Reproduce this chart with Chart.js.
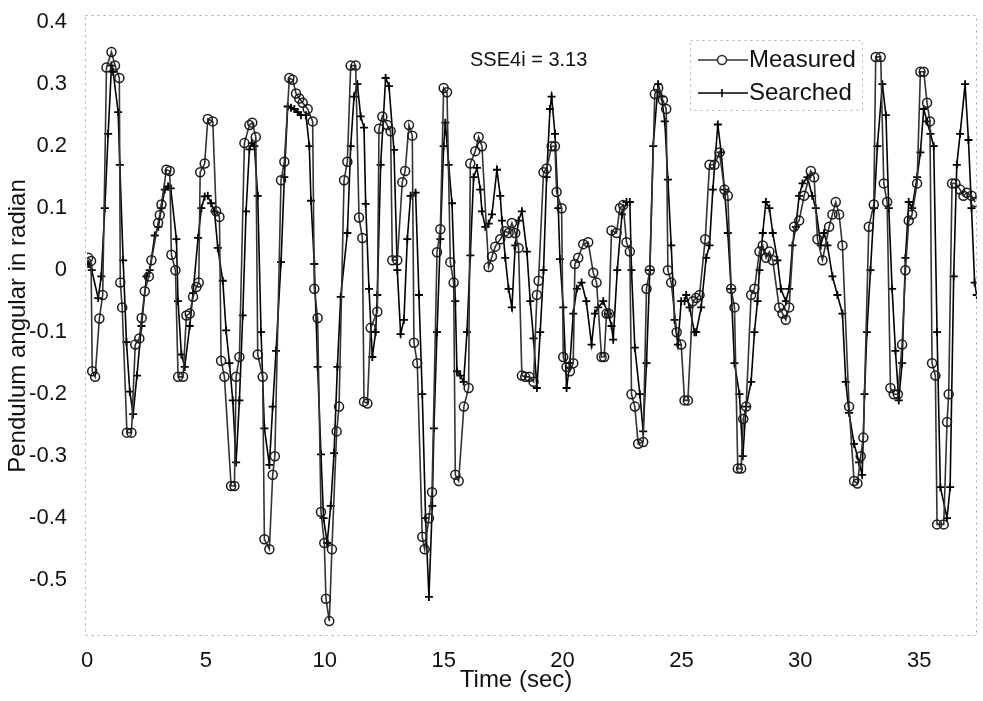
<!DOCTYPE html>
<html>
<head>
<meta charset="utf-8">
<title>Pendulum angle</title>
<script src="https://cdn.jsdelivr.net/npm/chart.js@4.4.1/dist/chart.umd.min.js"></script>
<style>
  html, body { margin: 0; padding: 0; background: #fff; }
  #chart { display: block; }
</style>
</head>
<body>
<canvas id="chart" width="983" height="701"></canvas>
<script>
// time axis (sec) and angle (rad)
var measuredTime = [
    0.05,0.17,0.22,0.34,0.52,0.66,0.82,1.03,1.18,1.36,
    1.40,1.48,1.68,1.87,2.03,2.20,2.30,2.43,2.60,2.71,
    2.99,3.06,3.13,3.34,3.48,3.55,3.72,3.83,4.04,4.18,
    4.32,4.46,4.60,4.70,4.76,4.95,5.08,5.29,5.43,5.57,
    5.64,5.78,6.06,6.20,6.27,6.41,6.62,6.83,6.95,7.10,
    7.18,7.39,7.46,7.67,7.81,7.90,8.16,8.30,8.51,8.65,
    8.79,8.93,9.07,9.28,9.49,9.56,9.70,9.84,9.98,10.05,
    10.19,10.30,10.50,10.60,10.81,10.95,11.09,11.30,11.44,11.58,
    11.65,11.79,11.93,12.21,12.28,12.42,12.63,12.77,12.84,13.05,
    13.26,13.38,13.54,13.68,13.75,13.89,14.10,14.20,14.38,14.51,
    14.72,14.86,15.00,15.14,15.28,15.42,15.49,15.63,15.85,16.05,
    16.12,16.33,16.47,16.61,16.89,17.03,17.17,17.38,17.59,17.73,
    17.87,18.01,18.15,18.29,18.43,18.60,18.78,18.92,18.99,19.20,
    19.33,19.54,19.68,19.75,19.96,20.03,20.17,20.31,20.45,20.52,
    20.66,20.87,21.08,21.29,21.43,21.64,21.75,21.85,21.95,22.06,
    22.27,22.41,22.55,22.69,22.83,22.90,23.04,23.18,23.39,23.53,
    23.67,23.88,24.02,24.22,24.36,24.43,24.57,24.80,24.99,25.13,
    25.27,25.48,25.62,25.76,26.00,26.18,26.39,26.60,26.81,26.95,
    27.09,27.23,27.37,27.51,27.60,27.72,27.93,28.07,28.28,28.42,
    28.56,28.70,28.84,29.11,29.25,29.39,29.53,29.74,29.95,30.16,
    30.44,30.58,30.72,30.93,31.21,31.35,31.49,31.63,31.77,32.05,
    32.26,32.40,32.54,32.65,32.88,33.09,33.17,33.38,33.51,33.65,
    33.79,33.93,34.10,34.28,34.42,34.56,34.70,34.91,35.05,35.19,
    35.33,35.45,35.54,35.68,35.75,36.03,36.17,36.24,36.38,36.52,
    36.72,36.86,37.00,37.20,37.35
];
var measuredAngle = [
    0.02,0.015,-0.163,-0.172,-0.078,-0.04,0.327,0.352,0.33,0.31,
    -0.02,-0.06,-0.262,-0.262,-0.12,-0.11,-0.077,-0.034,-0.01,0.016,
    0.076,0.089,0.106,0.162,0.16,0.025,0.0,-0.172,-0.172,-0.073,
    -0.07,-0.043,-0.027,-0.02,0.158,0.172,0.244,0.24,0.095,0.086,
    -0.146,-0.172,-0.348,-0.348,-0.172,-0.14,0.205,0.234,0.238,0.215,
    -0.136,-0.172,-0.434,-0.45,-0.33,-0.30,0.145,0.175,0.31,0.307,
    0.285,0.277,0.27,0.26,0.24,-0.03,-0.077,-0.39,-0.44,-0.53,
    -0.566,-0.45,-0.26,-0.22,0.145,0.175,0.33,0.33,0.085,0.052,
    -0.212,-0.215,-0.093,-0.067,0.228,0.248,0.234,0.224,0.016,0.016,
    0.142,0.16,0.234,0.217,-0.117,-0.15,-0.43,-0.45,-0.40,-0.358,
    0.029,0.066,0.294,0.287,0.013,-0.02,-0.33,-0.34,-0.22,-0.19,
    0.172,0.192,0.215,0.20,0.005,0.022,0.038,0.05,0.063,0.06,
    0.076,0.06,0.036,-0.17,-0.172,-0.172,-0.18,-0.04,-0.017,0.158,
    0.164,0.20,0.20,0.126,0.10,-0.14,-0.156,-0.163,-0.15,0.01,
    0.02,0.042,0.045,-0.004,-0.02,-0.14,-0.14,-0.07,-0.07,0.064,
    0.06,0.10,0.105,0.045,0.03,-0.20,-0.22,-0.28,-0.277,-0.03,
    0.0,0.284,0.294,0.274,0.26,0.0,-0.02,-0.10,-0.12,-0.21,
    -0.21,-0.05,-0.045,-0.04,0.05,0.17,0.17,0.19,0.13,0.12,
    -0.03,-0.06,-0.32,-0.32,-0.24,-0.22,-0.04,-0.03,0.03,0.04,
    0.02,0.03,0.016,-0.06,-0.07,-0.08,-0.06,0.07,0.08,0.12,
    0.16,0.15,0.05,0.016,0.07,0.09,0.11,0.09,0.04,-0.22,
    -0.34,-0.344,-0.30,-0.27,0.07,0.106,0.344,0.344,0.14,0.11,
    -0.19,-0.20,-0.20,-0.12,0.0,0.08,0.09,0.14,0.32,0.32,
    0.27,0.24,-0.15,-0.17,-0.41,-0.41,-0.245,-0.20,0.14,0.14,
    0.13,0.12,0.125,0.12,0.11
];

var searchedTime = [
    0.05,0.20,0.47,0.60,0.75,0.89,1.03,1.10,1.31,1.38,
    1.52,1.66,1.80,1.94,2.10,2.29,2.50,2.64,2.85,3.00,
    3.13,3.27,3.41,3.52,3.76,3.83,3.97,4.11,4.32,4.46,
    4.67,4.81,4.95,5.08,5.22,5.36,5.50,5.71,5.85,5.99,
    6.13,6.27,6.41,6.55,6.69,6.83,6.93,7.04,7.18,7.32,
    7.46,7.67,7.81,7.95,8.16,8.30,8.44,8.58,8.72,8.86,
    9.00,9.21,9.35,9.42,9.56,9.70,9.84,9.95,10.10,10.25,
    10.39,10.53,10.67,10.95,11.09,11.23,11.37,11.51,11.65,11.72,
    11.86,12.00,12.14,12.21,12.35,12.56,12.70,12.91,13.05,13.19,
    13.33,13.47,13.61,13.82,13.96,14.10,14.24,14.38,14.52,14.59,
    14.72,14.86,15.00,15.07,15.21,15.35,15.49,15.56,15.70,15.84,
    15.98,16.12,16.26,16.40,16.54,16.61,16.75,16.89,17.03,17.24,
    17.38,17.45,17.59,17.73,17.87,18.01,18.15,18.29,18.50,18.64,
    18.78,18.92,19.06,19.20,19.33,19.47,19.54,19.68,19.82,19.89,
    20.03,20.17,20.31,20.45,20.60,20.80,21.00,21.22,21.36,21.50,
    21.71,21.92,22.06,22.13,22.30,22.50,22.69,22.83,22.90,23.04,
    23.25,23.39,23.53,23.67,23.81,24.02,24.16,24.30,24.43,24.57,
    24.71,24.85,24.99,25.13,25.20,25.34,25.55,25.62,25.83,26.04,
    26.18,26.32,26.53,26.67,26.81,26.95,27.09,27.23,27.44,27.58,
    27.72,27.93,28.07,28.20,28.28,28.42,28.55,28.70,28.84,29.04,
    29.18,29.39,29.53,29.67,29.81,29.95,30.09,30.30,30.50,30.65,
    30.86,31.00,31.14,31.35,31.56,31.77,31.91,32.05,32.26,32.47,
    32.60,32.70,32.80,32.95,33.10,33.24,33.45,33.60,33.72,33.86,
    34.00,34.14,34.28,34.42,34.56,34.70,34.91,35.05,35.19,35.33,
    35.47,35.61,35.75,35.89,36.17,36.30,36.45,36.58,36.72,36.93,
    37.07,37.20,37.33,37.42
];
var searchedAngle = [
    0.01,0.0,-0.045,-0.01,0.10,0.22,0.33,0.32,0.255,0.17,
    0.016,-0.116,-0.196,-0.232,-0.17,-0.09,-0.01,0.0,0.056,0.07,
    0.10,0.13,0.135,0.132,0.05,-0.05,-0.136,-0.156,-0.09,-0.037,
    0.052,0.10,0.119,0.12,0.108,0.095,0.036,-0.017,-0.097,-0.15,
    -0.21,-0.31,-0.21,-0.073,0.095,0.195,0.205,0.20,0.12,-0.10,
    -0.255,-0.314,-0.22,-0.13,0.013,0.15,0.264,0.262,0.26,0.255,
    0.25,0.25,0.20,0.112,0.01,-0.156,-0.297,-0.40,-0.44,-0.38,
    -0.295,-0.156,-0.043,0.06,0.20,0.28,0.30,0.248,0.23,0.107,
    -0.03,-0.14,-0.10,-0.04,0.17,0.31,0.297,0.194,0.0,-0.103,
    -0.08,0.05,0.12,0.125,-0.04,-0.20,-0.40,-0.527,-0.38,-0.255,
    -0.10,0.05,0.20,0.238,0.17,0.108,-0.05,-0.163,-0.17,-0.18,
    -0.10,0.024,0.15,0.165,0.13,0.095,0.07,0.075,0.09,0.162,
    0.12,0.08,0.02,-0.03,-0.06,0.04,0.08,0.095,0.03,-0.05,
    -0.11,-0.19,-0.10,0.0,0.15,0.26,0.28,0.22,0.10,0.018,
    -0.06,-0.19,-0.15,-0.07,-0.03,-0.02,-0.05,-0.12,-0.07,-0.06,
    -0.05,-0.07,-0.09,-0.112,0.0,0.09,0.11,0.11,0.0,-0.125,
    -0.20,-0.26,-0.15,0.0,0.20,0.30,0.28,0.24,0.146,0.04,
    -0.08,-0.12,-0.05,-0.05,-0.04,-0.06,-0.10,-0.10,-0.06,0.02,
    0.04,0.13,0.235,0.19,0.13,0.06,-0.03,-0.15,-0.20,-0.30,
    -0.22,-0.18,-0.10,-0.05,0.0,0.06,0.11,0.10,0.06,0.016,
    -0.03,-0.05,-0.03,0.04,0.07,0.12,0.14,0.15,0.12,0.10,
    0.04,0.06,0.04,-0.01,-0.04,-0.07,-0.18,-0.23,-0.28,-0.31,
    -0.33,-0.20,-0.10,0.0,0.10,0.20,0.30,0.25,0.10,-0.03,
    -0.13,-0.21,-0.15,0.02,0.11,0.10,0.15,0.19,0.26,0.24,
    0.22,0.20,-0.10,-0.35,-0.40,-0.35,-0.01,0.17,0.22,0.30,
    0.21,0.10,-0.02,-0.04
];

var xTicks = [0, 5, 10, 15, 20, 25, 30, 35];
var yTicks = [0.4, 0.3, 0.2, 0.1, 0, -0.1, -0.2, -0.3, -0.4, -0.5];
var seriesNames = ['Measured', 'Searched'];
var sseText = 'SSE4i = 3.13';
var xTitle = 'Time (sec)';

var fontName = '"Liberation Sans", Arial, sans-serif';

function toPoints(xs, ys) {
    return xs.map(function (x, i) {
        return { x: x, y: ys[i] };
    });
}

// frame, legend box, x label and the SSE note drawn on top of the plot
var extras = {
    id: 'extras',
    afterDraw: function (chart) {
        var ctx = chart.ctx;
        var a = chart.chartArea;
        ctx.save();

        ctx.strokeStyle = '#a8a8a8';
        ctx.lineWidth = 1;
        ctx.setLineDash([2, 4]);
        ctx.strokeRect(a.left - 1.5, a.top - 0.5, a.right - a.left + 1, a.bottom - a.top);

        // legend box
        var lx = 690, ly = 40, lw = 172, lh = 70;
        ctx.strokeStyle = '#b0b0b0';
        ctx.strokeRect(lx + 0.5, ly + 0.5, lw, lh);
        ctx.setLineDash([]);

        var rows = [60, 93];
        ctx.lineWidth = 1.6;
        ctx.strokeStyle = '#333';
        ctx.beginPath();
        ctx.moveTo(698, rows[0]); ctx.lineTo(748, rows[0]);
        ctx.stroke();
        ctx.beginPath();
        ctx.fillStyle = '#fff';
        ctx.arc(722, rows[0], 4.5, 0, Math.PI * 2);
        ctx.fill();
        ctx.stroke();

        ctx.strokeStyle = '#000';
        ctx.beginPath();
        ctx.moveTo(698, rows[1]); ctx.lineTo(748, rows[1]);
        ctx.moveTo(722, rows[1] - 4); ctx.lineTo(722, rows[1] + 4);
        ctx.stroke();

        ctx.fillStyle = '#111';
        ctx.font = '24px ' + fontName;
        ctx.textAlign = 'left';
        ctx.textBaseline = 'middle';
        ctx.fillText(seriesNames[0], 749, rows[0]);
        ctx.fillText(seriesNames[1], 749, rows[1]);

        ctx.font = '20px ' + fontName;
        ctx.fillText(sseText, 470, 60);

        ctx.font = '24px ' + fontName;
        ctx.textAlign = 'center';
        ctx.fillText(xTitle, 516, 680);
        ctx.restore();
    }
};

function dibujar() {
    var canvas = document.getElementById('chart').getContext('2d');

    var datos = {
        datasets: [{
            label: seriesNames[0],
            data: toPoints(measuredTime, measuredAngle),
            borderColor: '#333',
            borderWidth: 1.6,
            pointStyle: 'circle',
            pointRadius: 4.5,
            pointBorderWidth: 1.5,
            pointBorderColor: '#1a1a1a',
            pointBackgroundColor: 'rgba(255,255,255,0)',
            tension: 0
        }, {
            label: seriesNames[1],
            data: toPoints(searchedTime, searchedAngle),
            borderColor: '#000',
            borderWidth: 1.6,
            pointStyle: 'cross',
            pointRadius: 4,
            pointBorderWidth: 1.8,
            pointBorderColor: '#000',
            tension: 0
        }]
    };

    window.grafico = new Chart(canvas, {
        type: 'line',
        data: datos,
        plugins: [extras],
        options: {
            responsive: false,
            animation: false,
            layout: {
                padding: { top: 16, right: 1, left: 0, bottom: 0 }
            },
            plugins: {
                legend: { display: false },
                tooltip: { enabled: false }
            },
            scales: {
                x: {
                    type: 'linear',
                    min: 0,
                    max: 37.43,
                    afterBuildTicks: function (axis) {
                        axis.ticks = xTicks.map(function (v) { return { value: v }; });
                    },
                    afterFit: function (axis) { axis.height = 65; },
                    grid: { display: false, drawTicks: false },
                    border: { display: false },
                    ticks: {
                        color: '#111',
                        padding: 12,
                        maxRotation: 0,
                        font: { family: fontName, size: 22 }
                    }
                },
                y: {
                    min: -0.59,
                    max: 0.41,
                    afterBuildTicks: function (axis) {
                        axis.ticks = yTicks.map(function (v) { return { value: v }; });
                    },
                    afterFit: function (axis) {
                        axis.width = 87;
                        axis.paddingTop = 0;
                        axis.paddingBottom = 0;
                    },
                    grid: { display: false, drawTicks: false },
                    border: { display: false },
                    ticks: {
                        color: '#111',
                        padding: 20,
                        font: { family: fontName, size: 22 },
                        callback: function (v) {
                            return v === 0 ? '0' : v.toFixed(1);
                        }
                    },
                    title: {
                        display: true,
                        text: 'Pendulum angular in radian',
                        color: '#111',
                        padding: { top: 4, bottom: 0 },
                        font: { family: fontName, size: 24 }
                    }
                }
            }
        }
    });
}

dibujar();
</script>
</body>
</html>
